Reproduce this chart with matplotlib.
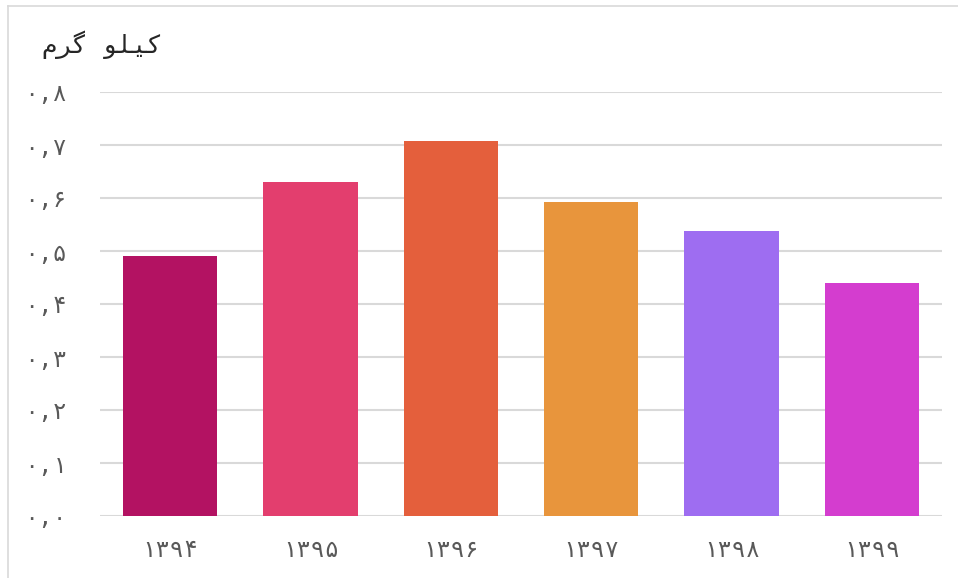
import matplotlib.pyplot as plt
from matplotlib.lines import Line2D

# داده‌ها
years = ['۱۳۹۴', '۱۳۹۵', '۱۳۹۶', '۱۳۹۷', '۱۳۹۸', '۱۳۹۹']
values = [0.49, 0.63, 0.707, 0.593, 0.537, 0.44]
colors = ['#B31262', '#E33E6E', '#E45F3C', '#E8953C', '#9E6DF1', '#D43DCF']
yticks = [0, 0.1, 0.2, 0.3, 0.4, 0.5, 0.6, 0.7, 0.8]
ytick_labels = ['۰,۰', '۰,۱', '۰,۲', '۰,۳', '۰,۴', '۰,۵', '۰,۶', '۰,۷', '۰,۸']
# "کیلو گرم" in presentation forms, visual order (matplotlib has no Arabic shaping)
unit_label = '\uFEE1\uFEAE\uFB94 \uFEEE\uFEE0\uFBFF\uFB90'

font = ['DejaVu Sans Mono', 'DejaVu Sans']
text_color = '#595959'
grid_color = '#D9D9D9'

fig = plt.figure(figsize=(9.58, 5.78), dpi=100)
ax = fig.add_axes([100 / 958, 1 - 516 / 578, 842 / 958, 424 / 578])

x = range(len(years))
ax.bar(x, values, width=0.67, color=colors, zorder=3)

ax.set_xlim(-0.5, len(years) - 0.5)
ax.set_ylim(0, 0.8)
ax.set_yticks(yticks)
ax.set_yticklabels(ytick_labels)
ax.set_xticks(list(x))
ax.set_xticklabels(years)
for lab in ax.get_xticklabels() + ax.get_yticklabels():
    lab.set_family(font)
    lab.set_fontsize(17)
    lab.set_color(text_color)

ax.tick_params(axis='both', length=0)
ax.tick_params(axis='y', pad=24)
ax.tick_params(axis='x', pad=16)
ax.grid(axis='y', color=grid_color, linewidth=1.5, zorder=0)
for s in ax.spines.values():
    s.set_visible(False)

fig.text(42 / 958, 1 - 45 / 578, unit_label, family=font, fontsize=18,
         color='#262626', ha='left', va='center')

# moldura
fig.add_artist(Line2D([8 / 958, 8 / 958], [0, 1 - 6 / 578], color=grid_color,
                      linewidth=1.2, transform=fig.transFigure))
fig.add_artist(Line2D([8 / 958, 1], [1 - 6 / 578, 1 - 6 / 578], color=grid_color,
                      linewidth=1.2, transform=fig.transFigure))

fig.savefig('out.png', dpi=100)
